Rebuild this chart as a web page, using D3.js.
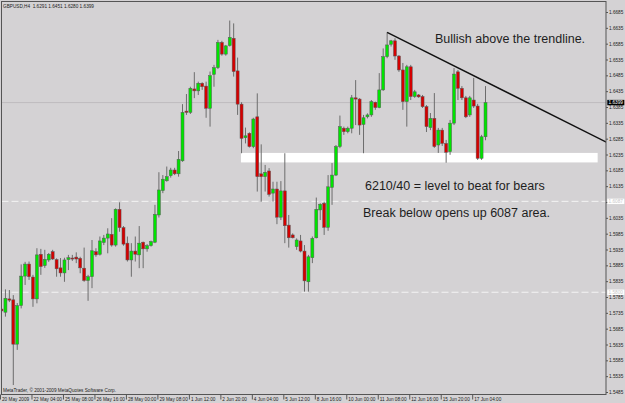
<!DOCTYPE html>
<html>
<head>
<meta charset="utf-8">
<script src="https://cdn.jsdelivr.net/npm/d3@7"></script>
<style>
  body { margin: 0; background: #d4d2d4; }
  svg { display: block; }
</style>
</head>
<body>
<div id="chart"></div>
<script>
// 1: DATA (GBPUSD H4, one entry per bar)
const opens = [
  1.5747, 1.5737, 1.5779, 1.5776, 1.5636, 1.5758, 1.5851, 1.5889, 1.5848, 1.5779,
  1.5920, 1.5884, 1.5902, 1.5928, 1.5903, 1.5877, 1.5861, 1.5903, 1.5908, 1.5911,
  1.5907, 1.5876, 1.5837, 1.5849, 1.5928, 1.5920, 1.5957, 1.5971, 1.5983, 1.5949,
  1.6062, 1.6004, 1.5955, 1.5902, 1.5930, 1.5918, 1.5958, 1.5937, 1.5947, 1.5958,
  1.6044, 1.6121, 1.6152, 1.6168, 1.6186, 1.6174, 1.6215, 1.6372, 1.6368, 1.6442,
  1.6436, 1.6460, 1.6451, 1.6381, 1.6488, 1.6509, 1.6589, 1.6552, 1.6579, 1.6602,
  1.6499, 1.6394, 1.6288, 1.6302, 1.6260, 1.6354, 1.6174, 1.6165, 1.6183, 1.6113,
  1.6126, 1.6037, 1.6120, 1.6012, 1.5981, 1.5944, 1.5962, 1.5930, 1.5833, 1.5909,
  1.5972, 1.6060, 1.6081, 1.6005, 1.6131, 1.6170, 1.6260, 1.6318, 1.6307, 1.6318,
  1.6414, 1.6410, 1.6330, 1.6354, 1.6360, 1.6400, 1.6383, 1.6439, 1.6544, 1.6583,
  1.6594, 1.6546, 1.6502, 1.6402, 1.6512, 1.6418, 1.6423, 1.6418, 1.6386, 1.6320,
  1.6349, 1.6265, 1.6312, 1.6270, 1.6244, 1.6334, 1.6496, 1.6444, 1.6414, 1.6360,
  1.6407, 1.6388, 1.6223, 1.6291
];
const highs = [
  1.5754, 1.5809, 1.5807, 1.5791, 1.5766, 1.5888, 1.5896, 1.5897, 1.5855, 1.5939,
  1.5937, 1.5934, 1.5924, 1.5934, 1.5907, 1.5908, 1.5909, 1.5918, 1.5918, 1.5926,
  1.5912, 1.5941, 1.5855, 1.5965, 1.5939, 1.5976, 1.5981, 1.6002, 1.6034, 1.6065,
  1.6084, 1.6009, 1.5976, 1.5955, 1.5976, 1.6009, 1.5960, 1.5952, 1.5963, 1.6076,
  1.6179, 1.6170, 1.6197, 1.6193, 1.6193, 1.6246, 1.6394, 1.6426, 1.6449, 1.6495,
  1.6465, 1.6463, 1.6465, 1.6497, 1.6518, 1.6597, 1.6594, 1.6581, 1.6658, 1.6649,
  1.6541, 1.6400, 1.6320, 1.6305, 1.6351, 1.6428, 1.6267, 1.6202, 1.6192, 1.6149,
  1.6149, 1.6151, 1.6239, 1.6044, 1.5986, 1.5970, 1.5981, 1.5949, 1.5918, 1.5976,
  1.6099, 1.6081, 1.6086, 1.6170, 1.6208, 1.6265, 1.6358, 1.6323, 1.6323, 1.6423,
  1.6470, 1.6413, 1.6360, 1.6365, 1.6407, 1.6402, 1.6492, 1.6570, 1.6621, 1.6597,
  1.6602, 1.6549, 1.6524, 1.6518, 1.6518, 1.6439, 1.6426, 1.6423, 1.6391, 1.6366,
  1.6429, 1.6319, 1.6319, 1.6281, 1.6344, 1.6508, 1.6502, 1.6451, 1.6420, 1.6420,
  1.6477, 1.6395, 1.6297, 1.6451
];
const lows = [
  1.5735, 1.5723, 1.5769, 1.5507, 1.5618, 1.5749, 1.5823, 1.5839, 1.5754, 1.5765,
  1.5855, 1.5877, 1.5896, 1.5902, 1.5849, 1.5849, 1.5833, 1.5870, 1.5899, 1.5892,
  1.5860, 1.5833, 1.5773, 1.5813, 1.5912, 1.5916, 1.5949, 1.5923, 1.5944, 1.5944,
  1.5991, 1.5947, 1.5897, 1.5849, 1.5897, 1.5876, 1.5876, 1.5928, 1.5944, 1.5955,
  1.6036, 1.6113, 1.6149, 1.6162, 1.6170, 1.6165, 1.6212, 1.6360, 1.6363, 1.6413,
  1.6423, 1.6439, 1.6351, 1.6323, 1.6449, 1.6505, 1.6547, 1.6547, 1.6576, 1.6481,
  1.6360, 1.6239, 1.6270, 1.6257, 1.6255, 1.6118, 1.6086, 1.6118, 1.6102, 1.6086,
  1.6015, 1.6028, 1.5955, 1.5941, 1.5970, 1.5934, 1.5926, 1.5802, 1.5802, 1.5892,
  1.5970, 1.6028, 1.5981, 1.5994, 1.6076, 1.6167, 1.6255, 1.6297, 1.6302, 1.6302,
  1.6328, 1.6297, 1.6239, 1.6349, 1.6354, 1.6376, 1.6381, 1.6436, 1.6539, 1.6576,
  1.6534, 1.6496, 1.6376, 1.6323, 1.6407, 1.6414, 1.6414, 1.6382, 1.6306, 1.6312,
  1.6256, 1.6240, 1.6262, 1.6209, 1.6234, 1.6328, 1.6407, 1.6407, 1.6350, 1.6354,
  1.6382, 1.6218, 1.6218, 1.6280
];
const closes = [
  1.5741, 1.5781, 1.5775, 1.5636, 1.5758, 1.5851, 1.5889, 1.5849, 1.5779, 1.5918,
  1.5881, 1.5904, 1.5920, 1.5905, 1.5874, 1.5861, 1.5902, 1.5909, 1.5907, 1.5905,
  1.5877, 1.5837, 1.5849, 1.5931, 1.5918, 1.5962, 1.5971, 1.5984, 1.5949, 1.6062,
  1.6004, 1.5952, 1.5902, 1.5930, 1.5920, 1.5955, 1.5937, 1.5947, 1.5960, 1.6046,
  1.6123, 1.6157, 1.6165, 1.6186, 1.6174, 1.6220, 1.6368, 1.6368, 1.6444, 1.6436,
  1.6460, 1.6449, 1.6381, 1.6484, 1.6509, 1.6589, 1.6552, 1.6578, 1.6605, 1.6497,
  1.6394, 1.6286, 1.6294, 1.6260, 1.6347, 1.6165, 1.6165, 1.6179, 1.6109, 1.6126,
  1.6037, 1.6120, 1.6010, 1.5972, 1.5972, 1.5965, 1.5930, 1.5836, 1.5912, 1.5970,
  1.6062, 1.6078, 1.6005, 1.6133, 1.6170, 1.6260, 1.6323, 1.6307, 1.6318, 1.6414,
  1.6410, 1.6328, 1.6351, 1.6360, 1.6402, 1.6383, 1.6439, 1.6544, 1.6581, 1.6594,
  1.6546, 1.6502, 1.6402, 1.6512, 1.6418, 1.6433, 1.6417, 1.6386, 1.6323, 1.6349,
  1.6260, 1.6312, 1.6270, 1.6242, 1.6334, 1.6489, 1.6444, 1.6414, 1.6354, 1.6414,
  1.6388, 1.6223, 1.6291, 1.6399
];

// time axis labels (one every 8 bars)
const timeLabels = [
  "20 May 2009", "22 May 04:00", "25 May 08:00", "26 May 16:00", "28 May 00:00",
  "29 May 08:00", "1 Jun 12:00", "2 Jun 20:00", "4 Jun 04:00", "5 Jun 12:00",
  "8 Jun 16:00", "10 Jun 00:00", "11 Jun 08:00", "12 Jun 16:00", "15 Jun 20:00",
  "17 Jun 04:00"
];
const timeLabelBars = [0, 8, 16, 24, 32, 40, 48, 56, 64, 72, 80, 88, 96, 104, 112, 120];

// price axis labels
const priceTicks = [
  1.5485, 1.5535, 1.5585, 1.5635, 1.5685, 1.5735, 1.5785, 1.5835, 1.5885, 1.5935,
  1.5985, 1.6035, 1.6085, 1.6135, 1.6185, 1.6235, 1.6285, 1.6335, 1.6385, 1.6435,
  1.6485, 1.6535, 1.6585, 1.6635, 1.6685
];

// horizontal levels and drawn objects
const bidPrice = 1.6399;
const dashedLevels = [1.6087, 1.5800];
const zonePrices = [1.6210, 1.6240];
const zoneBars = [60.85, 151.5];
const trendBars = [98, 154];
const trendPrices = [1.6621, 1.6272];

const headerText = "GBPUSD,H4  1.6291 1.6451 1.6280 1.6399";
const footerText = "MetaTrader, \u00a9 2001-2009 MetaQuotes Software Corp.";
const notes = [
  "Bullish above the trendline.",
  "6210/40 = level to beat for bears",
  "Break below opens up 6087 area."
];

// 2: SIZES AND SCALES
const W = 625, H = 403;
const plot = { left: 1.5, top: 1.5, right: 606, bottom: 394.5 };
const barStep = 3.935;

const xScale = d3.scaleLinear()
    .domain([0, 154])
    .range([1.5, 1.5 + barStep * 154]);

const yScale = d3.scaleLinear()
    .domain([1.5485, 1.6685])
    .range([392, 12]);

const bars = opens.map((o, i) => ({
    i: i, open: o, high: highs[i], low: lows[i], close: closes[i]
}));

const svg = d3.select("#chart").append("svg")
    .attr("width", W)
    .attr("height", H)
    .style("font-family", "'Liberation Sans', Arial, sans-serif");

svg.append("rect")
    .attr("width", W).attr("height", H)
    .attr("fill", "#d4d2d4");

svg.append("clipPath").attr("id", "plotClip")
  .append("rect")
    .attr("x", plot.left).attr("y", plot.top)
    .attr("width", plot.right - plot.left)
    .attr("height", plot.bottom - plot.top);

const g = svg.append("g").attr("clip-path", "url(#plotClip)");

// 3: ZONE (behind the candles)
g.append("rect")
    .attr("x", xScale(zoneBars[0]))
    .attr("y", yScale(zonePrices[1]))
    .attr("width", xScale(zoneBars[1]) - xScale(zoneBars[0]))
    .attr("height", yScale(zonePrices[0]) - yScale(zonePrices[1]))
    .attr("fill", "#ffffff");

// levels
g.selectAll(".level")
    .data(dashedLevels)
    .enter().append("line")
    .attr("class", "level")
    .attr("x1", plot.left).attr("x2", plot.right)
    .attr("y1", d => yScale(d)).attr("y2", d => yScale(d))
    .attr("stroke", "#f4f4f4")
    .attr("stroke-width", 1)
    .attr("stroke-dasharray", "7,3");

g.append("line")
    .attr("x1", plot.left).attr("x2", plot.right)
    .attr("y1", yScale(bidPrice)).attr("y2", yScale(bidPrice))
    .attr("stroke", "#bebcbe")
    .attr("stroke-width", 1);

// 4: CANDLES
const candle = g.selectAll(".candle")
    .data(bars)
    .enter().append("g")
    .attr("class", "candle");

candle.append("line")
    .attr("x1", d => xScale(d.i)).attr("x2", d => xScale(d.i))
    .attr("y1", d => yScale(d.high)).attr("y2", d => yScale(d.low))
    .attr("stroke", "#6c6c6c")
    .attr("stroke-width", 1);

candle.append("rect")
    .attr("x", d => xScale(d.i) - 1.5)
    .attr("width", 3)
    .attr("y", d => yScale(Math.max(d.open, d.close)))
    .attr("height", d => Math.max(1, Math.abs(yScale(d.open) - yScale(d.close))))
    .attr("fill", d => d.close >= d.open ? "#00e400" : "#d40000")
    .attr("stroke", "#585858")
    .attr("stroke-width", 0.5);

// 5: TRENDLINE
g.append("line")
    .attr("x1", xScale(trendBars[0])).attr("y1", yScale(trendPrices[0]))
    .attr("x2", xScale(trendBars[1])).attr("y2", yScale(trendPrices[1]))
    .attr("stroke", "#111")
    .attr("stroke-width", 1.4);

// 6: FRAME
svg.append("rect")
    .attr("x", plot.left).attr("y", plot.top)
    .attr("width", plot.right - plot.left)
    .attr("height", plot.bottom - plot.top)
    .attr("fill", "none")
    .attr("stroke", "#555")
    .attr("stroke-width", 1);

// 7: AXES
const yAxis = svg.append("g")
    .attr("transform", `translate(${plot.right},0)`)
    .call(d3.axisRight(yScale)
        .tickValues(priceTicks)
        .tickFormat(d3.format(".4f"))
        .tickSize(2)
        .tickPadding(1));
yAxis.select(".domain").remove();
yAxis.selectAll("line").attr("stroke", "#555");
yAxis.selectAll("text")
    .attr("font-size", "4.7px")
    .attr("font-family", "'Liberation Sans', Arial, sans-serif")
    .attr("fill", "#222");

const xAxis = svg.append("g")
    .attr("transform", `translate(-1.5,${plot.bottom})`)
    .call(d3.axisBottom(xScale)
        .tickValues(timeLabelBars)
        .tickFormat((d, i) => timeLabels[i])
        .tickSize(5));
xAxis.select(".domain").remove();
xAxis.selectAll("line").attr("stroke", "#555");
xAxis.selectAll("text")
    .attr("text-anchor", "start")
    .attr("x", 1.5)
    .attr("y", 6.2)
    .attr("dy", 0)
    .attr("font-size", "4.7px")
    .attr("font-family", "'Liberation Sans', Arial, sans-serif")
    .attr("fill", "#222");

// price markers on the axis
const markers = [bidPrice].concat(dashedLevels);
const marker = svg.selectAll(".marker")
    .data(markers)
    .enter().append("g")
    .attr("class", "marker")
    .attr("transform", d => `translate(${plot.right + 1.3},${yScale(d)})`);

marker.append("rect")
    .attr("x", 0).attr("y", -2.7)
    .attr("width", 17).attr("height", 5.4)
    .attr("fill", (d, i) => i === 0 ? "#000" : "#fff");

marker.append("text")
    .attr("x", 1.3).attr("y", 1.7)
    .attr("font-size", "4.7px")
    .attr("fill", (d, i) => i === 0 ? "#fff" : "#c8c8c8")
    .text(d => d3.format(".4f")(d));

// 8: TEXTS
svg.append("text")
    .attr("x", 3).attr("y", 7.6)
    .attr("font-size", "4.7px")
    .attr("fill", "#222")
    .style("white-space", "pre")
    .text(headerText);

svg.append("text")
    .attr("x", 3).attr("y", 391.6)
    .attr("font-size", "4.7px")
    .attr("fill", "#222")
    .text(footerText);

const notePos = [[435, 42.5], [365, 190], [363, 216.5]];
svg.selectAll(".note")
    .data(notes)
    .enter().append("text")
    .attr("class", "note")
    .attr("x", (d, i) => notePos[i][0])
    .attr("y", (d, i) => notePos[i][1])
    .attr("font-size", "12.5px")
    .attr("fill", "#1e1e1e")
    .text(d => d);
</script>
</body>
</html>
